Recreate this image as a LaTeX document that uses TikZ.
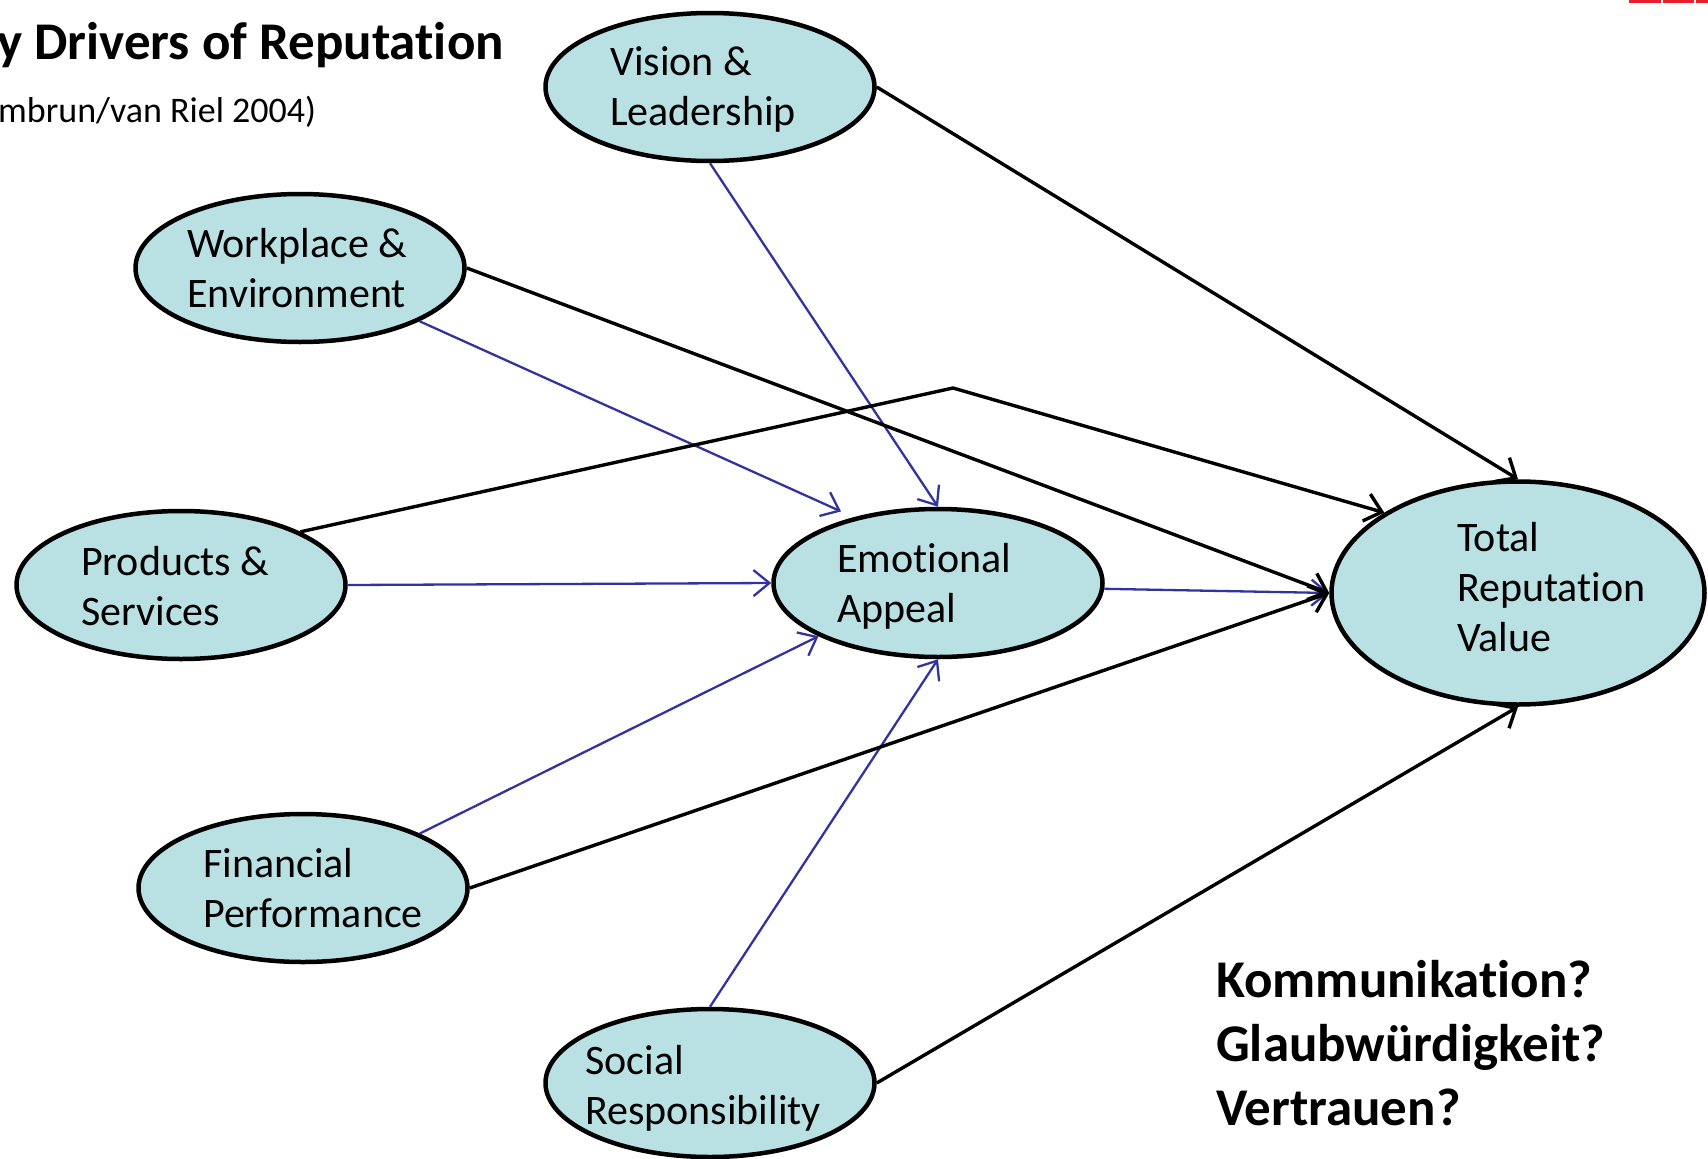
\documentclass[tikz,border=0pt]{standalone}
\usepackage{fontspec}
\setmainfont{Carlito}[Ligatures=NoCommon]
\usetikzlibrary{arrows.meta,shapes.geometric,positioning}
\definecolor{ovalfill}{RGB}{185,224,227}
\definecolor{linkblue}{RGB}{51,51,160}
\definecolor{barred}{RGB}{232,30,45}
\tikzset{oval/.style={
            draw,
            ellipse,
            fill=ovalfill,
            line width=4.5pt,
            inner sep=0pt,
            minimum width=329pt,
            minimum height=148pt
        },
        txt/.style={
            anchor=base west,
            align=left,
            inner sep=0pt,
            font=\fontsize{42}{50}\selectfont
        },
        bluelink/.style={
            draw=linkblue,
            line width=2.3pt,
            -{Straight Barb[length=16pt,width=26pt,line width=2.3pt]}
        },
        blacklink/.style={
            draw=black,
            line width=3.4pt,
            -{Straight Barb[length=16pt,width=28pt,line width=3.4pt]}
        }
    }

\begin{document}
\begin{tikzpicture}[x=1pt,y=-1pt,line join=round]
\useasboundingbox (0,0) rectangle (1708,1159);
% red bar top right
\fill[barred] (1629,0) rectangle (1661,2.7);
\fill[barred] (1663,0) rectangle (1694,2.7);
\fill[barred] (1696,0) rectangle (1708,2.7);
% heading
\node[anchor=base west,inner sep=0pt,font=\bfseries\fontsize{53}{60}\selectfont] (title) at (-3,59) {y Drivers of Reputation};
\node[anchor=base west,inner sep=0pt,font=\fontsize{36}{42}\selectfont] (source) at (-2,122) {mbrun/van Riel 2004)};
% ovals
\node[oval] (vis) at (710,87) {};
\node[oval] (wp) at (300,268) {};
\node[oval] (ps) at (181,585) {};
\node[oval] (emo) at (938,583) {};
\node[oval] (fp) at (303,888) {};
\node[oval] (sr) at (710,1083) {};
\node[oval,minimum width=373pt,minimum height=223pt] (tot) at (1518,593) {};
\node[txt] (vis-t) at (610,125) {Vision \&\\Leadership};
\node[txt] (wp-t) at (187,307) {Workplace \&\\Environment};
\node[txt] (ps-t) at (81,625) {Products \&\\Services};
\node[txt] (emo-t) at (837,622) {Emotional\\Appeal};
\node[txt] (tot-t) at (1457,651) {Total\\Reputation\\Value};
\node[txt] (fp-t) at (203,927) {Financial\\Performance};
\node[txt] (sr-t) at (585,1124) {Social\\Responsibility};
% links into emotional appeal
\draw[bluelink] (vis.south) -- (emo.north);
\draw[bluelink,shorten >=14pt] (wp.-24) -- (emo.142);
\draw[bluelink] (ps.east) -- (emo.west);
\draw[bluelink] (fp.25) -- (emo.204);
\draw[bluelink] (sr.north) -- (emo.south);
\draw[bluelink] (emo.-2) -- (tot.west);
% direct links into total value
\coordinate (bend) at (953,388);
\draw[blacklink] (vis.east) -- (tot.north);
\draw[blacklink] (wp.east) -- (tot.west);
\draw[blacklink] (ps.24) -- (bend) -- (tot.149);
\draw[blacklink] (fp.east) -- (tot.west);
\draw[blacklink] (sr.east) -- (tot.south);
% questions
\node[anchor=base west,align=left,inner sep=0pt,font=\bfseries\fontsize{53}{64}\selectfont] (quest) at (1216,1125) {Kommunikation?\\Glaubwürdigkeit?\\Vertrauen?};
\end{tikzpicture}
\end{document}
